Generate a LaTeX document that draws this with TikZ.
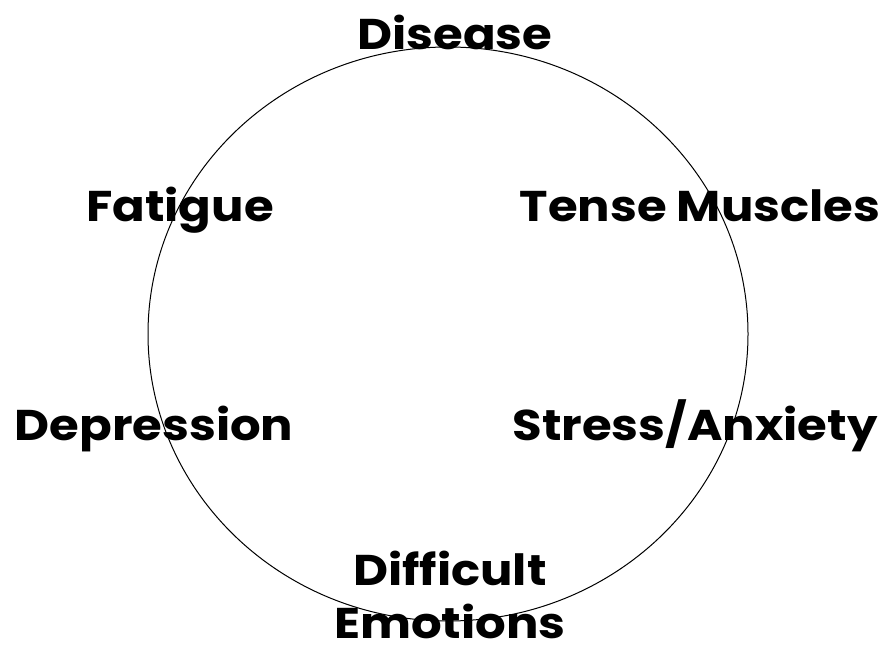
\documentclass[tikz,border=0pt]{standalone}
\usepackage{fontspec}
\setmainfont{Poppins}[FakeStretch=1.12]
\begin{document}
\begin{tikzpicture}[x=1pt,y=-1pt,
  lbl/.style={font=\fontsize{43}{53}\selectfont\bfseries, inner sep=0pt, anchor=base, align=center}]
\useasboundingbox (0,0) rectangle (891,652);
\node[lbl] (disease) at (455,50) {Disease};
\node[lbl] (fatigue) at (180,222) {Fatigue};
\node[lbl] (tense) at (700,222) {Tense Muscles};
\node[lbl] (depression) at (154,440) {Depression};
\node[lbl] (stress) at (695,440) {Stress/Anxiety};
\node[lbl, text depth=0pt] (difficult) at (450,638) {Difficult\\Emotions};
\draw[line width=1pt] (448,334) ellipse [x radius=300, y radius=287];
\end{tikzpicture}
\end{document}
